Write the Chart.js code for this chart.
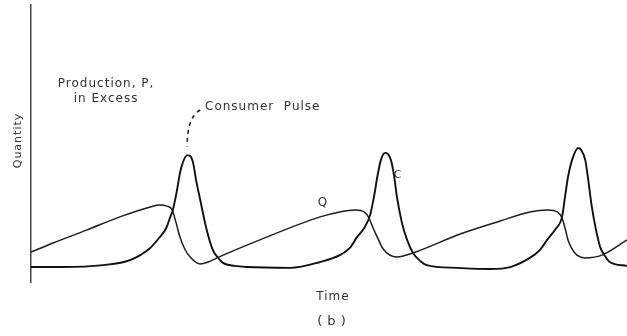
<!DOCTYPE html>
<html>
<head>
<meta charset="utf-8">
<script src="https://cdn.jsdelivr.net/npm/chart.js@4/dist/chart.umd.min.js"></script>
<style>
  html, body { margin: 0; padding: 0; background: #ffffff; }
  #wrap { width: 627px; height: 336px; position: relative; }
</style>
</head>
<body>
<div id="wrap"><canvas id="c"></canvas></div>
<script>
// ---- Data (time and quantity in arbitrary units 0..100) ----
const productionTime = [0.0, 3.7, 9.4, 14.9, 20.0, 21.6, 22.8, 23.7, 24.3, 25.0, 25.8, 26.7, 28.4, 29.7, 31.2, 38.4, 48.5, 51.8, 54.4, 55.9, 56.7, 57.4, 58.1, 58.9, 59.7, 61.4, 64.1, 72.0, 78.7, 83.7, 86.7, 88.3, 89.1, 89.6, 90.1, 90.8, 91.6, 93.0, 95.8, 100.0];
const productionQty  = [10.8, 14.1, 18.8, 23.5, 27.1, 27.8, 27.4, 26.0, 21.7, 16.2, 11.9, 9.0, 6.5, 7.2, 8.7, 15.2, 23.5, 25.3, 26.0, 25.3, 23.1, 19.5, 16.2, 12.6, 10.5, 9.0, 10.5, 17.3, 22.0, 25.3, 26.0, 25.3, 23.1, 19.5, 15.2, 11.9, 9.7, 8.7, 9.7, 15.2];

const consumerTime = [0.0, 4.9, 12.1, 16.6, 20.0, 21.6, 22.7, 23.3, 23.8, 24.5, 25.0, 25.5, 26.2, 26.7, 27.2, 27.7, 28.4, 29.4, 30.5, 31.4, 32.2, 34.2, 36.2, 43.5, 48.5, 51.8, 53.5, 54.7, 55.9, 56.9, 57.6, 58.1, 58.7, 59.4, 59.9, 60.4, 60.9, 61.4, 62.2, 63.1, 64.1, 65.3, 66.4, 71.5, 77.0, 80.4, 83.7, 85.4, 86.6, 87.9, 89.1, 89.6, 90.1, 90.9, 91.8, 92.3, 93.0, 93.5, 94.1, 94.8, 95.5, 96.3, 97.1, 100.0];
const consumerQty  = [5.4, 5.4, 6.1, 7.9, 12.3, 16.2, 19.5, 23.1, 26.0, 33.2, 39.4, 43.3, 45.8, 45.5, 43.0, 36.8, 29.6, 19.5, 11.6, 8.7, 6.9, 5.8, 5.4, 5.1, 7.2, 9.7, 12.3, 16.2, 19.5, 24.2, 31.4, 37.9, 44.0, 46.6, 46.2, 44.0, 38.6, 30.7, 21.7, 15.2, 10.5, 7.6, 6.1, 5.1, 4.7, 5.4, 8.7, 11.6, 15.2, 18.8, 23.5, 30.7, 37.9, 44.8, 48.4, 47.7, 44.0, 36.8, 27.1, 18.8, 12.6, 9.4, 7.2, 5.8];

// ---- Text labels ----
const yAxisLabel = 'Quantity';
const xAxisLabel = 'Time';
const panelLabel = '(b)';
const noteProduction = ['Production, P,', 'in Excess'];
const noteConsumer = 'Consumer  Pulse';
const curveLabelQ = 'Q';
const curveLabelC = 'C';

// ---- Annotation anchors (data units) ----
const annotations = [
  { text: noteProduction[0], t: 12.6, q: 71.5, align: 'center', size: 12 },
  { text: noteProduction[1], t: 12.6, q: 66.1, align: 'center', size: 12 },
  { text: noteConsumer,      t: 29.2, q: 63.2, align: 'left',   size: 12 },
  { text: curveLabelQ,       t: 49.0, q: 28.5, align: 'center', size: 12 },
  { text: curveLabelC,       t: 61.6, q: 38.6, align: 'center', size: 11 }
];
const leader = { from: { t: 28.4, q: 62.1 }, ctrl: { t: 26.2, q: 59.6 }, to: { t: 26.2, q: 48.9 } };

function toPoints(xs, ys) { return xs.map((x, i) => ({ x: x, y: ys[i] })); }

const textPlugin = {
  id: 'figureText',
  afterDraw(chart) {
    const ctx = chart.ctx;
    const xs = chart.scales.x, ys = chart.scales.y;
    const area = chart.chartArea;
    ctx.save();
    ctx.fillStyle = '#333333';
    ctx.textBaseline = 'middle';
    if ('letterSpacing' in ctx) ctx.letterSpacing = '1px';
    annotations.forEach(a => {
      ctx.font = a.size + 'px "DejaVu Sans", sans-serif';
      ctx.textAlign = a.align;
      ctx.fillText(a.text, xs.getPixelForValue(a.t), ys.getPixelForValue(a.q));
    });
    // leader line (dashed)
    ctx.strokeStyle = '#222';
    ctx.lineWidth = 1.6;
    ctx.setLineDash([4, 4]);
    ctx.beginPath();
    ctx.moveTo(xs.getPixelForValue(leader.from.t), ys.getPixelForValue(leader.from.q));
    ctx.quadraticCurveTo(xs.getPixelForValue(leader.ctrl.t), ys.getPixelForValue(leader.ctrl.q),
                         xs.getPixelForValue(leader.to.t), ys.getPixelForValue(leader.to.q));
    ctx.stroke();
    ctx.setLineDash([]);
    // axis titles
    ctx.font = '12px "DejaVu Sans", sans-serif';
    ctx.textAlign = 'center';
    ctx.fillText(xAxisLabel, (area.left + area.right) / 2 + 4, area.bottom + 15);
    if ('letterSpacing' in ctx) ctx.letterSpacing = '5px';
    ctx.font = '13px "DejaVu Sans", sans-serif';
    ctx.fillText(panelLabel, (area.left + area.right) / 2 + 5, area.bottom + 40);
    if ('letterSpacing' in ctx) ctx.letterSpacing = '1px';
    ctx.save();
    ctx.translate(area.left - 13, (area.top + area.bottom) / 2 - 3);
    ctx.rotate(-Math.PI / 2);
    ctx.font = '11px "DejaVu Sans", sans-serif';
    ctx.fillText(yAxisLabel, 0, 0);
    ctx.restore();
    ctx.restore();
  }
};

new Chart(document.getElementById('c'), {
  type: 'line',
  data: {
    datasets: [
      {
        label: 'Production, P',
        data: toPoints(productionTime, productionQty),
        borderColor: '#1e1e1e',
        borderWidth: 1.5,
        pointRadius: 0,
        fill: false,
        cubicInterpolationMode: 'monotone'
      },
      {
        label: 'Consumer, C',
        data: toPoints(consumerTime, consumerQty),
        borderColor: '#111111',
        borderWidth: 1.9,
        pointRadius: 0,
        fill: false,
        cubicInterpolationMode: 'monotone'
      }
    ]
  },
  options: {
    responsive: true,
    maintainAspectRatio: false,
    animation: false,
    layout: { padding: { left: 31, top: 5, right: 0, bottom: 54 } },
    plugins: { legend: { display: false }, tooltip: { enabled: false }, title: { display: false } },
    scales: {
      x: {
        type: 'linear', min: 0, max: 100,
        ticks: { display: false },
        grid: { display: false, drawTicks: false },
        border: { display: false }
      },
      y: {
        min: 0, max: 100,
        ticks: { display: false },
        grid: { display: false, drawTicks: false },
        border: { display: true, color: '#444', width: 1.5 }
      }
    }
  },
  plugins: [textPlugin]
});
</script>
</body>
</html>
